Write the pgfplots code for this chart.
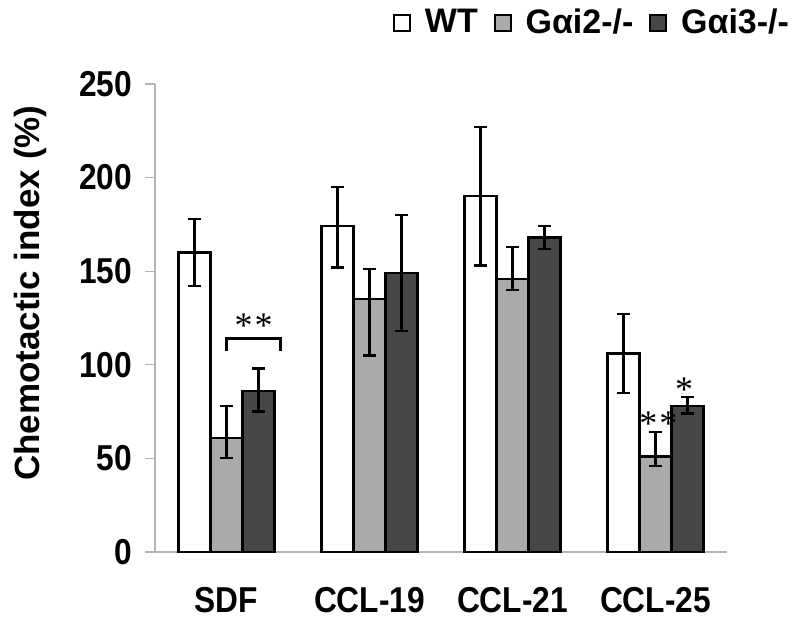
\documentclass[border=0pt]{standalone}
\usepackage{pgfplots}
\pgfplotsset{compat=1.18}
\usepackage{pgfplotstable}
\usepackage{fontspec}
\setmainfont{Liberation Sans}
\newfontfamily\narrow[FakeStretch=0.88]{Liberation Sans}
\newfontfamily\serif{Liberation Serif}
\definecolor{lg}{HTML}{AAAAAA}
\definecolor{dg}{HTML}{474747}
\definecolor{axg}{HTML}{B4B4B4}

\pgfplotstableread{
x y ep em
0 160 18 18
1 174 21 22
2 190 37 37
3 106 21 21
}\wt
\pgfplotstableread{
x y ep em
0 61 17 11
1 135 16 30
2 146 17 6
3 51 13 5
}\gtwo
\pgfplotstableread{
x y ep em
0 86 12 11
1 149 31 31
2 168 6 6
3 78 5 4
}\gthree

\begin{document}
\begin{tikzpicture}
\begin{axis}[
  scale only axis,
  width=286pt, height=234pt,
  ymin=0, ymax=250, ytick={0,50,...,250},
  xmin=-0.5, xmax=3.5,
  xtick={0,1,2,3},
  xticklabels={SDF,CCL-19,CCL-21,CCL-25},
  major x tick style={draw=none},
  extra x ticks={-0.5,0.5,1.5,2.5,3.5},
  extra x tick labels={},
  extra x tick style={major tick length=5pt, tick align=outside, major tick style={draw=axg, line width=0.6pt}},
  axis x line*=bottom, axis y line*=left,
  axis line style={draw=axg, line width=0.6pt},
  y axis line style={-}, x axis line style={-},
  tick align=outside,
  major tick length=5pt,
  y tick style={draw=axg, line width=0.6pt},
  /pgf/number format/assume math mode=true,
  tick label style={font=\fontsize{18}{20}\narrow\bfseries},
  yticklabel style={xshift=-3pt},
  xticklabel style={yshift=-9pt},
  ylabel={Chemotactic index (\%)},
  ylabel style={font=\fontsize{17.5}{20}\selectfont\bfseries, at={(axis description cs:-0.2185,0.553)}, anchor=center},
  ybar=0pt, bar width=16pt,
  every axis plot/.append style={draw=black, line width=1.1pt},
  error bars/y dir=both, error bars/y explicit,
  error bars/error bar style={line width=1.1pt, black},
  error bars/error mark options={rotate=90, mark size=3.3pt, line width=1.1pt, black},
  legend columns=3,
  legend style={draw=none, fill=none, at={(axis description cs:1.116,1.17)}, anchor=north east,
    font=\fontsize{17}{20}\selectfont\bfseries,
    /tikz/every even column/.append style={column sep=6pt},
    /tikz/every odd column/.append style={column sep=5pt},
    inner sep=0pt},
  legend image code/.code={\draw[#1, draw=black, line width=0.9pt] (0pt,-4pt) rectangle (8pt,4pt);},
  clip=false,
]
\addplot[fill=white] table[x=x,y=y,y error plus=ep,y error minus=em] {\wt};
\addplot[fill=lg] table[x=x,y=y,y error plus=ep,y error minus=em] {\gtwo};
\addplot[fill=dg] table[x=x,y=y,y error plus=ep,y error minus=em] {\gthree};
\legend{WT,Gαi2-/-,Gαi3-/-}
\draw[black, line width=1.6pt] (axis cs:0.0,107.5) -- (axis cs:0.0,114) -- (axis cs:0.38,114) -- (axis cs:0.38,107.5);
\node[font=\fontsize{18}{18}\serif] at (axis cs:0.19,121) {*\kern1pt*};
\node[font=\fontsize{18}{18}\serif] at (axis cs:3.02,68.5) {*\kern1pt*};
\node[font=\fontsize{18}{18}\serif] at (axis cs:3.2,86.5) {*};
\coordinate (sw) at (rel axis cs:0,0);
\coordinate (ne) at (rel axis cs:1,1);
\end{axis}
\pgfresetboundingbox
\path ([xshift=-77.5pt,yshift=-36pt]sw) rectangle ([xshift=36.5pt,yshift=42pt]ne);
\end{tikzpicture}
\end{document}
